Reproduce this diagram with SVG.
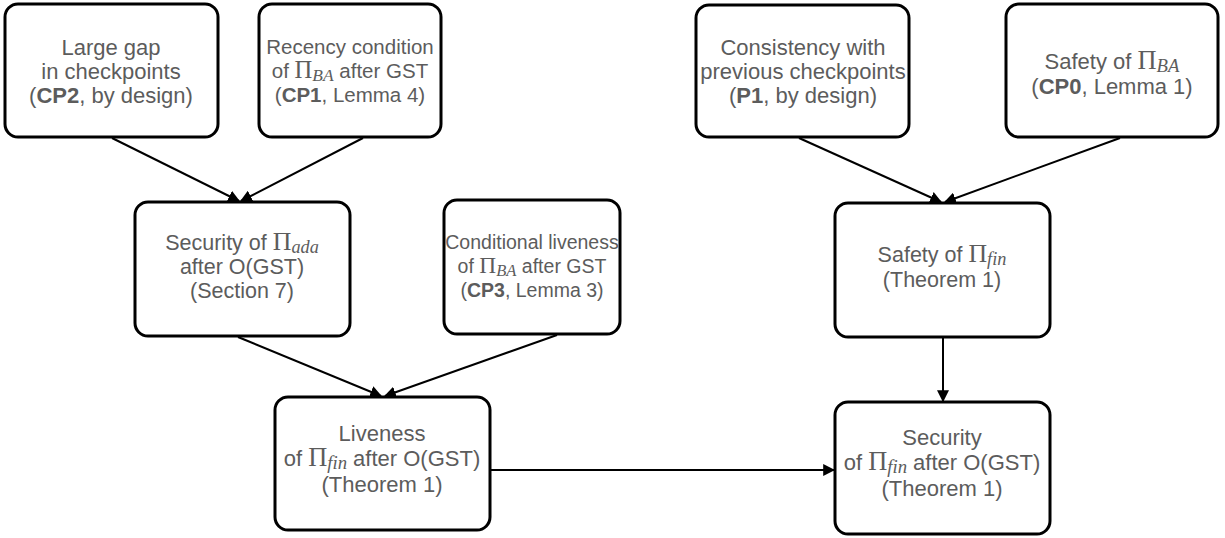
<svg xmlns="http://www.w3.org/2000/svg" width="1225" height="538" viewBox="0 0 1225 538">
  <style>
    .box { fill: #ffffff; stroke: #000000; stroke-width: 3; }
    .lbl { font-family: "Liberation Sans", Arial, sans-serif; fill: #5c5c5c; text-anchor: middle; }
    .b { font-weight: bold; }
    .pi { font-family: "Liberation Serif", "Times New Roman", serif; font-size: 1.2em; }
    .sub { font-family: "Liberation Serif", "Times New Roman", serif; font-style: italic; font-size: 0.85em; }
    .edge { fill: none; stroke: #000000; stroke-width: 2; marker-end: url(#arrow); }
  </style>
  <defs>
    <marker id="arrow" viewBox="0 0 10 10" refX="9" refY="5" markerWidth="6" markerHeight="6" orient="auto" markerUnits="strokeWidth">
      <path d="M0,0 L10,5 L0,10 z" fill="#000000"/>
    </marker>
  </defs>
  <rect width="1225" height="538" fill="#ffffff"/>

  <g id="connectors">
    <line class="edge" x1="112" y1="138" x2="239" y2="201"/>
    <line class="edge" x1="363" y1="138" x2="241" y2="201"/>
    <line class="edge" x1="799" y1="138" x2="941" y2="202"/>
    <line class="edge" x1="1120" y1="138" x2="945" y2="202"/>
    <line class="edge" x1="238" y1="337" x2="381" y2="396"/>
    <line class="edge" x1="557" y1="335" x2="385" y2="396"/>
    <line class="edge" x1="943" y1="338" x2="943" y2="401"/>
    <line class="edge" x1="491" y1="470" x2="834" y2="470"/>
  </g>

  <g id="gap" font-size="22">
    <rect class="box" x="5" y="4" width="213" height="133" rx="13"/>
    <text class="lbl" x="111" y="55">Large gap</text>
    <text class="lbl" x="111" y="79">in checkpoints</text>
    <text class="lbl" x="111" y="103">(<tspan class="b">CP2</tspan>, by design)</text>
  </g>

  <g id="recency" font-size="20.5">
    <rect class="box" x="259" y="4" width="182" height="133" rx="13"/>
    <text class="lbl" x="350" y="54">Recency condition</text>
    <text class="lbl" x="350" y="78">of <tspan class="pi">Π</tspan><tspan class="sub" dy="3">BA</tspan><tspan dy="-3"> after GST</tspan></text>
    <text class="lbl" x="350" y="102">(<tspan class="b">CP1</tspan>, Lemma 4)</text>
  </g>

  <g id="consistency" font-size="22">
    <rect class="box" x="696" y="5" width="213" height="132" rx="13"/>
    <text class="lbl" x="803" y="55">Consistency with</text>
    <text class="lbl" x="803" y="79">previous checkpoints</text>
    <text class="lbl" x="803" y="103">(<tspan class="b">P1</tspan>, by design)</text>
  </g>

  <g id="safety-ba" font-size="22">
    <rect class="box" x="1006" y="4" width="212" height="133" rx="13"/>
    <text class="lbl" x="1112" y="69">Safety of <tspan class="pi">Π</tspan><tspan class="sub" dy="3">BA</tspan></text>
    <text class="lbl" x="1112" y="94">(<tspan class="b">CP0</tspan>, Lemma 1)</text>
  </g>

  <g id="security-ada" font-size="21.5">
    <rect class="box" x="135" y="202" width="215" height="134" rx="13"/>
    <text class="lbl" x="242" y="250">Security of <tspan class="pi">Π</tspan><tspan class="sub" dy="3">ada</tspan></text>
    <text class="lbl" x="242" y="274">after O(GST)</text>
    <text class="lbl" x="242" y="298">(Section 7)</text>
  </g>

  <g id="cond-liveness" font-size="19.5">
    <rect class="box" x="444" y="200" width="176" height="134" rx="13"/>
    <text class="lbl" x="532" y="249">Conditional liveness</text>
    <text class="lbl" x="532" y="273">of <tspan class="pi">Π</tspan><tspan class="sub" dy="3">BA</tspan><tspan dy="-3"> after GST</tspan></text>
    <text class="lbl" x="532" y="297">(<tspan class="b">CP3</tspan>, Lemma 3)</text>
  </g>

  <g id="safety-fin" font-size="21.5">
    <rect class="box" x="835" y="203" width="215" height="134" rx="13"/>
    <text class="lbl" x="942" y="262">Safety of <tspan class="pi">Π</tspan><tspan class="sub" dy="3">fin</tspan></text>
    <text class="lbl" x="942" y="287">(Theorem 1)</text>
  </g>

  <g id="liveness-fin" font-size="22">
    <rect class="box" x="275" y="397" width="215" height="133" rx="13"/>
    <text class="lbl" x="382" y="441">Liveness</text>
    <text class="lbl" x="382" y="466">of <tspan class="pi">Π</tspan><tspan class="sub" dy="3">fin</tspan><tspan dy="-3"> after O(GST)</tspan></text>
    <text class="lbl" x="382" y="492">(Theorem 1)</text>
  </g>

  <g id="security-fin" font-size="22">
    <rect class="box" x="835" y="402" width="215" height="132" rx="13"/>
    <text class="lbl" x="942" y="445">Security</text>
    <text class="lbl" x="942" y="470">of <tspan class="pi">Π</tspan><tspan class="sub" dy="3">fin</tspan><tspan dy="-3"> after O(GST)</tspan></text>
    <text class="lbl" x="942" y="496">(Theorem 1)</text>
  </g>
</svg>
